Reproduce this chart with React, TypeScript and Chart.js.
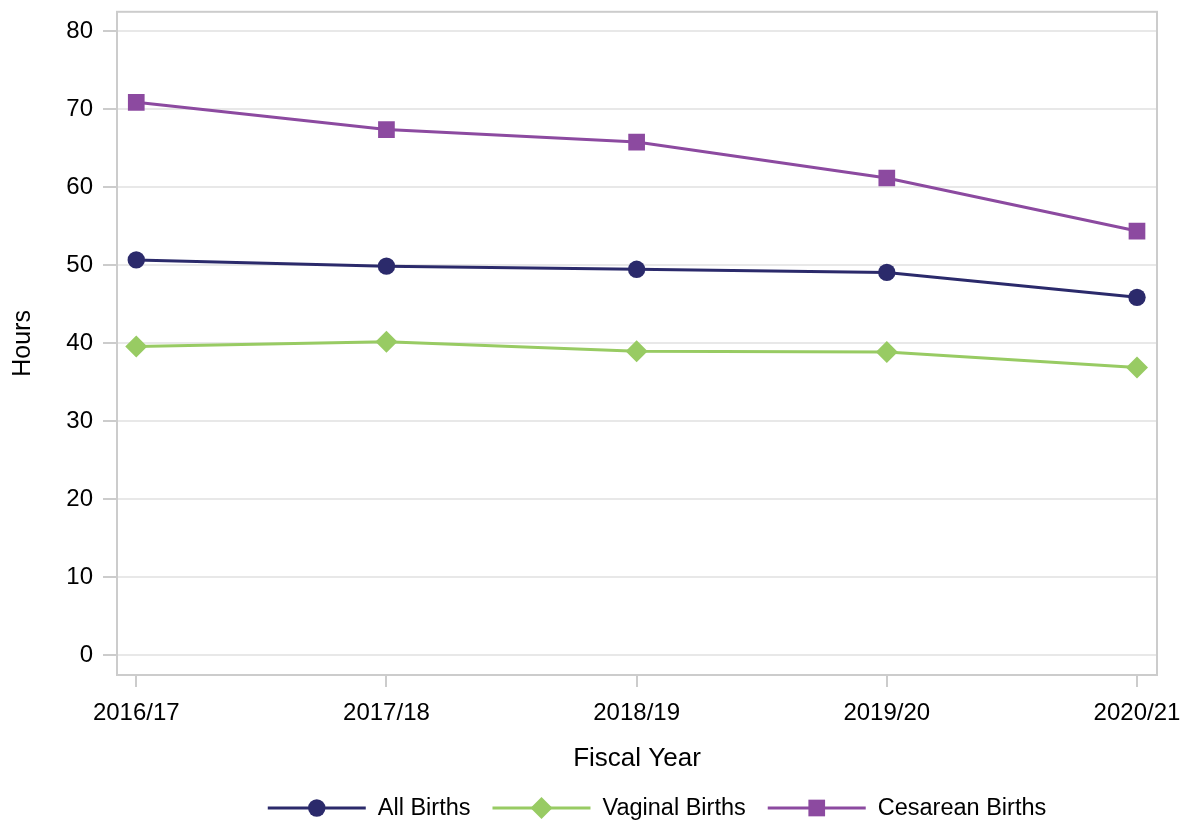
import React, { useEffect, useRef } from "react";
import { Chart, registerables } from "chart.js";

Chart.register(...registerables);

const categories = ["2016/17", "2017/18", "2018/19", "2019/20", "2020/21"];
const allBirths = [50.7, 49.9, 49.5, 49.1, 45.9];
const vaginalBirths = [39.6, 40.2, 39.0, 38.9, 36.9];
const cesareanBirths = [70.9, 67.4, 65.8, 61.2, 54.4];
const yTicks = [0, 10, 20, 30, 40, 50, 60, 70, 80];

const seriesNames = ["All Births", "Vaginal Births", "Cesarean Births"];
const seriesColors = ["#2B2A6B", "#98CB63", "#8C4AA0"];
const seriesStyles = ["circle", "rectRot", "rect"];
const seriesRadius = [8.7, 11, 11.8];

const FONT = "'Liberation Sans', Arial, sans-serif";

function drawMarker(ctx: CanvasRenderingContext2D, style: string, x: number, y: number, r: number) {
  ctx.beginPath();
  if (style === "circle") {
    ctx.arc(x, y, r, 0, Math.PI * 2);
  } else if (style === "rect") {
    const s = Math.SQRT1_2 * r;
    ctx.rect(x - s, y - s, 2 * s, 2 * s);
  } else {
    ctx.moveTo(x - r, y);
    ctx.lineTo(x, y - r);
    ctx.lineTo(x + r, y);
    ctx.lineTo(x, y + r);
    ctx.closePath();
  }
  ctx.fill();
}

const framePlugin = {
  id: "frame",
  beforeDatasetsDraw(chart: any) {
    const { ctx, chartArea } = chart;
    ctx.save();
    ctx.strokeStyle = "#CCCCCC";
    ctx.lineWidth = 2;
    ctx.strokeRect(chartArea.left, chartArea.top, chartArea.right - chartArea.left, chartArea.bottom - chartArea.top);
    ctx.restore();
  },
};

const legendPlugin = {
  id: "customLegend",
  afterDraw(chart: any) {
    const { ctx } = chart;
    ctx.save();
    ctx.font = `23.5px ${FONT}`;
    const lineLen = 98;
    const textGap = 12;
    const itemGap = 22;
    const widths = seriesNames.map((n) => ctx.measureText(n).width);
    const total = widths.reduce((a, w) => a + lineLen + textGap + w, 0) + itemGap * (seriesNames.length - 1);
    let x = 657 - total / 2;
    const y = 808;
    seriesNames.forEach((name, i) => {
      ctx.strokeStyle = seriesColors[i];
      ctx.fillStyle = seriesColors[i];
      ctx.lineWidth = 3;
      ctx.beginPath();
      ctx.moveTo(x, y);
      ctx.lineTo(x + lineLen, y);
      ctx.stroke();
      drawMarker(ctx, seriesStyles[i], x + lineLen / 2, y, seriesRadius[i]);
      ctx.fillStyle = "#000";
      ctx.textBaseline = "middle";
      ctx.textAlign = "left";
      ctx.fillText(name, x + lineLen + textGap, y + 1);
      x += lineLen + textGap + widths[i] + itemGap;
    });
    ctx.restore();
  },
};

export default function App() {
  const ref = useRef<HTMLCanvasElement>(null);
  useEffect(() => {
    if (!ref.current) return;
    const seriesData = [allBirths, vaginalBirths, cesareanBirths];
    const chart = new Chart(ref.current, {
      type: "line",
      data: {
        datasets: seriesData.map((vals, i) => ({
          label: seriesNames[i],
          data: vals.map((v, k) => ({ x: k, y: v })),
          borderColor: seriesColors[i],
          backgroundColor: seriesColors[i],
          borderWidth: 3,
          pointStyle: seriesStyles[i] as any,
          pointRadius: seriesRadius[i],
          pointHoverRadius: seriesRadius[i],
          pointBorderWidth: 0,
          tension: 0,
        })),
      },
      options: {
        responsive: false,
        animation: false,
        layout: { padding: { left: 0, right: 31, top: 10, bottom: 0 } },
        plugins: { legend: { display: false }, tooltip: { enabled: false } },
        scales: {
          x: {
            type: "linear",
            min: -0.077,
            max: 4.08,
            afterBuildTicks: (scale: any) => {
              scale.ticks = categories.map((_, i) => ({ value: i }));
            },
            afterFit: (scale: any) => {
              scale.height = 150;
              scale.paddingLeft = 0;
              scale.paddingRight = 0;
            },
            ticks: {
              callback: (v: any) => categories[v] ?? "",
              font: { family: FONT, size: 24 },
              color: "#000",
              padding: 12,
              maxRotation: 0,
              autoSkip: false,
            },
            grid: { drawOnChartArea: false, tickLength: 12, tickColor: "#CCCCCC", lineWidth: 2 },
            border: { display: false },
            title: {
              display: true,
              text: "Fiscal Year",
              font: { family: FONT, size: 26 },
              color: "#000",
              padding: { top: 0, bottom: 51 },
            },
          },
          y: {
            min: -2.5,
            max: 82.5,
            afterBuildTicks: (scale: any) => {
              scale.ticks = yTicks.map((v) => ({ value: v }));
            },
            afterFit: (scale: any) => {
              scale.width = 117;
              scale.paddingTop = 0;
              scale.paddingBottom = 0;
            },
            ticks: {
              font: { family: FONT, size: 24 },
              color: "#000",
              padding: 10,
            },
            grid: { color: "#E8E8E8", lineWidth: 2, tickLength: 14, tickColor: "#CCCCCC" },
            border: { display: false },
            title: {
              display: true,
              text: "Hours",
              font: { family: FONT, size: 25 },
              color: "#000",
              padding: { top: 8, bottom: 0 },
            },
          },
        },
      },
      plugins: [framePlugin, legendPlugin],
    });
    return () => chart.destroy();
  }, []);
  return (
    <div style={{ position: "absolute", left: 0, top: 0, width: 1188, height: 825, background: "#fff" }}>
      <canvas ref={ref} width={1188} height={825} style={{ display: "block" }} />
    </div>
  );
}
